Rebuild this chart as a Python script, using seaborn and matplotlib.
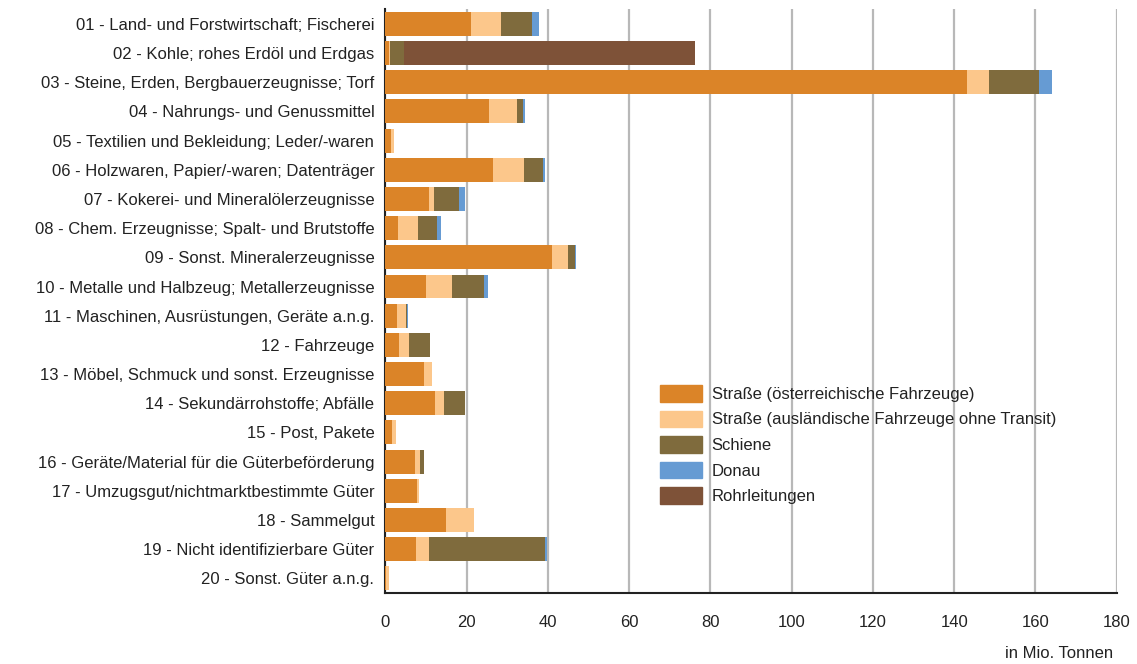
import matplotlib.pyplot as plt
import matplotlib.patches as mpatches
import seaborn as sns
import pandas as pd
import numpy as np

# ---- Daten (Mio. Tonnen) ----
gueter = [
    "01 - Land- und Forstwirtschaft; Fischerei",
    "02 - Kohle; rohes Erdöl und Erdgas",
    "03 - Steine, Erden, Bergbauerzeugnisse; Torf",
    "04 - Nahrungs- und Genussmittel",
    "05 - Textilien und Bekleidung; Leder/-waren",
    "06 - Holzwaren, Papier/-waren; Datenträger",
    "07 - Kokerei- und Mineralölerzeugnisse",
    "08 - Chem. Erzeugnisse; Spalt- und Brutstoffe",
    "09 - Sonst. Mineralerzeugnisse",
    "10 - Metalle und Halbzeug; Metallerzeugnisse",
    "11 - Maschinen, Ausrüstungen, Geräte a.n.g.",
    "12 - Fahrzeuge",
    "13 - Möbel, Schmuck und sonst. Erzeugnisse",
    "14 - Sekundärrohstoffe; Abfälle",
    "15 - Post, Pakete",
    "16 - Geräte/Material für die Güterbeförderung",
    "17 - Umzugsgut/nichtmarktbestimmte Güter",
    "18 - Sammelgut",
    "19 - Nicht identifizierbare Güter",
    "20 - Sonst. Güter a.n.g.",
]

strasse_inl = [21.0, 0.8, 143.1, 25.4, 1.3, 26.4, 10.7, 3.0, 41.0, 9.9,
               2.8, 3.3, 9.4, 12.1, 1.5, 7.2, 7.7, 14.8, 7.4, 0.2]
strasse_ausl = [7.4, 0.3, 5.4, 7.1, 0.7, 7.6, 1.2, 4.9, 3.9, 6.4,
                2.2, 2.4, 2.1, 2.2, 1.0, 1.2, 0.5, 6.9, 3.2, 0.6]
schiene = [7.6, 3.4, 12.3, 1.3, 0.0, 4.9, 6.1, 4.7, 1.8, 7.9,
           0.3, 5.2, 0.0, 5.2, 0.0, 1.0, 0.0, 0.0, 28.8, 0.0]
donau = [1.7, 0.0, 3.2, 0.5, 0.0, 0.3, 1.5, 1.0, 0.15, 1.0,
         0.15, 0.0, 0.0, 0.0, 0.0, 0.0, 0.0, 0.0, 0.25, 0.0]
rohr = [0.0, 71.6, 0.0, 0.0, 0.0, 0.0, 0.0, 0.0, 0.0, 0.0,
        0.0, 0.0, 0.0, 0.0, 0.0, 0.0, 0.0, 0.0, 0.0, 0.0]

serien = ["Straße (österreichische Fahrzeuge)",
          "Straße (ausländische Fahrzeuge ohne Transit)",
          "Schiene", "Donau", "Rohrleitungen"]
farben = ["#DB8428", "#FCC78B", "#7F6B3D", "#669BD3", "#7E5238"]

df = pd.DataFrame({"Gut": gueter, serien[0]: strasse_inl, serien[1]: strasse_ausl,
                   serien[2]: schiene, serien[3]: donau, serien[4]: rohr})

# kumulierte Summen fuer gestapelte Balken
kum = df[serien].cumsum(axis=1)

# ---- Stil ----
sns.set_theme(style="white")
plt.rcParams["font.family"] = ["Liberation Sans", "DejaVu Sans"]

fig = plt.figure(figsize=(11.37, 6.64), dpi=100)
ax = fig.add_axes([0.339, 0.107, 0.6431, 0.879])

# von hinten nach vorne zeichnen (groesste Summe zuerst)
for s, c in reversed(list(zip(serien, farben))):
    sns.barplot(x=kum[s], y=df["Gut"], color=c, orient="h", width=0.82,
                linewidth=0, saturation=1, ax=ax, zorder=3)

ax.set_xlim(0, 180)
ax.set_ylim(19.5, -0.5)
ax.set_xticks(np.arange(0, 181, 20))
ax.xaxis.grid(True, color="#b8b8b8", linewidth=1.6, zorder=0)
ax.set_axisbelow(True)

for sp in ["top", "right"]:
    ax.spines[sp].set_visible(False)
ax.spines["left"].set_color("#222222")
ax.spines["left"].set_linewidth(1.5)
ax.spines["bottom"].set_color("#222222")
ax.spines["bottom"].set_linewidth(1.5)

ax.tick_params(axis="x", direction="out", length=9, width=1.5, color="#222222",
               labelsize=12, labelcolor="#222222", pad=7)
ax.tick_params(axis="y", length=0, labelsize=12, labelcolor="#222222", pad=8)
ax.set_xlabel("")
ax.set_ylabel("")

fig.text(0.979, 0.004, "in Mio. Tonnen", ha="right", va="bottom",
         fontsize=12, color="#222222")

handles = [mpatches.Patch(color=c, label=s) for s, c in zip(serien, farben)]
ax.legend(handles=handles, loc="upper left", bbox_to_anchor=(0.355, 0.382),
          frameon=False, fontsize=12, handlelength=2.5, handleheight=1.15,
          labelspacing=0.52, handletextpad=0.6, labelcolor="#222222")

plt.savefig("out.png", dpi=100)
